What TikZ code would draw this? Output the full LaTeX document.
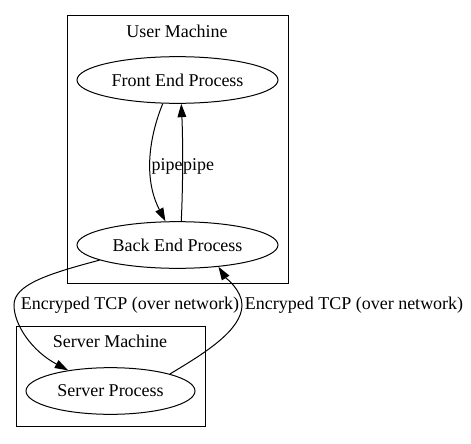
\documentclass[tikz,border=0pt]{standalone}
\usepackage{fontspec}
\setmainfont{Liberation Serif}
\usepackage{tikz}
\usetikzlibrary{shapes.geometric,arrows.meta,positioning}

\tikzset{
proc/.style={draw,ellipse,line width=0.75pt,inner sep=0pt,minimum height=35pt},
lbl/.style={inner sep=0pt},
link/.style={line width=0.75pt,-{Triangle[length=10pt,width=6.5pt]}}
}

\begin{document}
\begin{tikzpicture}[x=0.75pt,y=0.75pt,yscale=-1,xscale=1,font=\fontsize{13.5}{16}\selectfont]
\useasboundingbox (0,0) rectangle (471,443);

%Cluster Boxes
\draw [line width=0.75pt] (67,15) rectangle (288,283);
\draw [line width=0.75pt] (16,326) rectangle (205,426);

% Text Node
\draw (177,31) node [lbl] (usr) {User Machine};
% Text Node
\draw (110,341) node [lbl] (srv) {Server Machine};

%Shape: Ellipse
\draw (177.5,80) node [proc,minimum width=150.75pt] (fe) {Front End Process};
%Shape: Ellipse
\draw (177.5,245) node [proc,minimum width=150.75pt] (be) {Back End Process};
%Shape: Ellipse
\draw (110.5,391) node [proc,minimum width=126.75pt] (sp) {Server Process};

%Curve Lines
\draw [link] (fe.238) .. controls (148,140) and (144,180) .. (be.117);
\draw [link] (be.81) .. controls (183,185) and (183,140) .. (fe.279);
\draw [link] (be.191) .. controls (47,274) and (14,285) .. (14,305) .. controls (14,325) and (32,351) .. (sp.154);
\draw [link] (sp.16) .. controls (205,353) and (242,330) .. (242,305) .. controls (242,290) and (225,277) .. (be.332);

% Text Node
\draw (167,166) node [lbl] (pipeA) {pipe};
\node [lbl,right=0pt of pipeA] (pipeB) {pipe};
% Text Node
\draw (130,305) node [lbl] (tcpA) {Encryped TCP (over network)};
% Text Node
\draw (354,305) node [lbl] (tcpB) {Encryped TCP (over network)};

\end{tikzpicture}
\end{document}
